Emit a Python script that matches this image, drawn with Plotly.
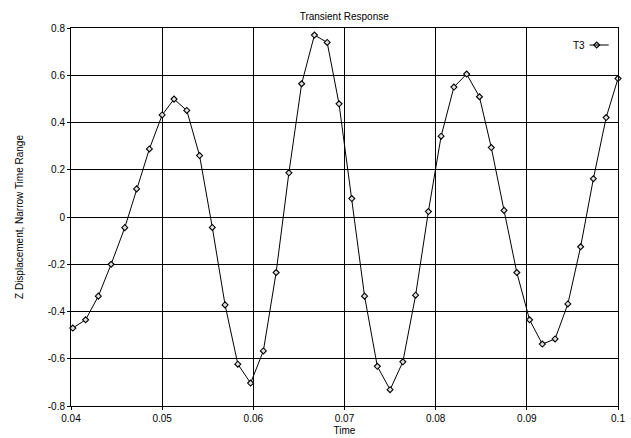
import plotly.graph_objects as go

time = [0.0402, 0.0416, 0.0430, 0.0444, 0.0459, 0.0472, 0.0486, 0.0500, 0.0513, 0.0527,
        0.0541, 0.0555, 0.0569, 0.0583, 0.0597, 0.0611, 0.0625, 0.0639, 0.0653, 0.0667,
        0.0681, 0.0694, 0.0708, 0.0722, 0.0736, 0.0750, 0.0764, 0.0778, 0.0792, 0.0806,
        0.0820, 0.0834, 0.0848, 0.0861, 0.0875, 0.0889, 0.0903, 0.0917, 0.0931, 0.0945,
        0.0959, 0.0973, 0.0987, 0.1000]
t3 = [-0.470, -0.435, -0.335, -0.200, -0.045, 0.119, 0.288, 0.432, 0.499, 0.451,
      0.260, -0.044, -0.372, -0.623, -0.703, -0.567, -0.235, 0.187, 0.564, 0.770,
      0.739, 0.479, 0.078, -0.335, -0.632, -0.731, -0.613, -0.331, 0.023, 0.342,
      0.550, 0.605, 0.509, 0.294, 0.028, -0.235, -0.435, -0.538, -0.516, -0.368,
      -0.126, 0.162, 0.421, 0.586]

x_ticks = [0.04, 0.05, 0.06, 0.07, 0.08, 0.09, 0.1]
x_ticklabels = ["0.04", "0.05", "0.06", "0.07", "0.08", "0.09", "0.1"]
y_ticks = [-0.8, -0.6, -0.4, -0.2, 0, 0.2, 0.4, 0.6, 0.8]
y_ticklabels = ["-0.8", "-0.6", "-0.4", "-0.2", "0", "0.2", "0.4", "0.6", "0.8"]

FONT = "Liberation Sans, Arial, sans-serif"
MARKER = dict(symbol="diamond", size=4.6, color="#e0e0e0",
              line=dict(color="black", width=1.1))

fig = go.Figure()
fig.add_trace(go.Scatter(
    x=time, y=t3, mode="lines+markers", name="T3",
    line=dict(color="black", width=1),
    marker=MARKER, cliponaxis=False, showlegend=False,
))

axis_common = dict(
    showgrid=True, gridcolor="black", gridwidth=1,
    showline=True, linecolor="black", linewidth=1, mirror=True,
    ticks="outside", ticklen=3, tickcolor="black", automargin=False,
    zeroline=False, tickfont=dict(size=10, color="black", family=FONT),
)

fig.update_xaxes(range=[0.04, 0.1], tickvals=x_ticks, ticktext=x_ticklabels,
                 title=dict(text="Time", font=dict(size=10, color="black", family=FONT),
                            standoff=3),
                 **axis_common)
fig.update_yaxes(range=[-0.8, 0.8], tickvals=y_ticks, ticktext=y_ticklabels,
                 title=dict(text="Z Displacement, Narrow Time Range",
                            font=dict(size=10, color="black", family=FONT), standoff=22),
                 **axis_common)

# Legend (text then symbol, as in the reference)
ly = 0.955
fig.add_annotation(x=0.943, y=ly, xref="paper", yref="paper", text="T3",
                   showarrow=False, xanchor="right", yanchor="middle",
                   font=dict(size=10, color="black", family=FONT))
fig.add_shape(type="line", xref="paper", yref="paper",
              x0=0.948, x1=0.983, y0=ly, y1=ly,
              line=dict(color="black", width=1))
fig.add_trace(go.Scatter(
    x=[0.961], y=[ly], xaxis="x2", yaxis="y2", mode="markers",
    marker=MARKER, showlegend=False, hoverinfo="skip", cliponaxis=False,
))
fig.update_layout(
    xaxis2=dict(range=[0, 1], overlaying="x", visible=False),
    yaxis2=dict(range=[0, 1], overlaying="y", visible=False),
)

fig.update_layout(
    width=631, height=438,
    margin=dict(l=71, r=13, t=28, b=32, autoexpand=False),
    paper_bgcolor="white", plot_bgcolor="white",
    title=dict(text="Transient Response", x=0.5455, xanchor="center", y=0.963,
               yanchor="middle", font=dict(size=10, color="black", family=FONT)),
    font=dict(family=FONT, color="black", size=10),
    showlegend=False,
)

fig.write_html("out.html", config={"displayModeBar": False},
               post_script="document.body.style.margin='0';")
